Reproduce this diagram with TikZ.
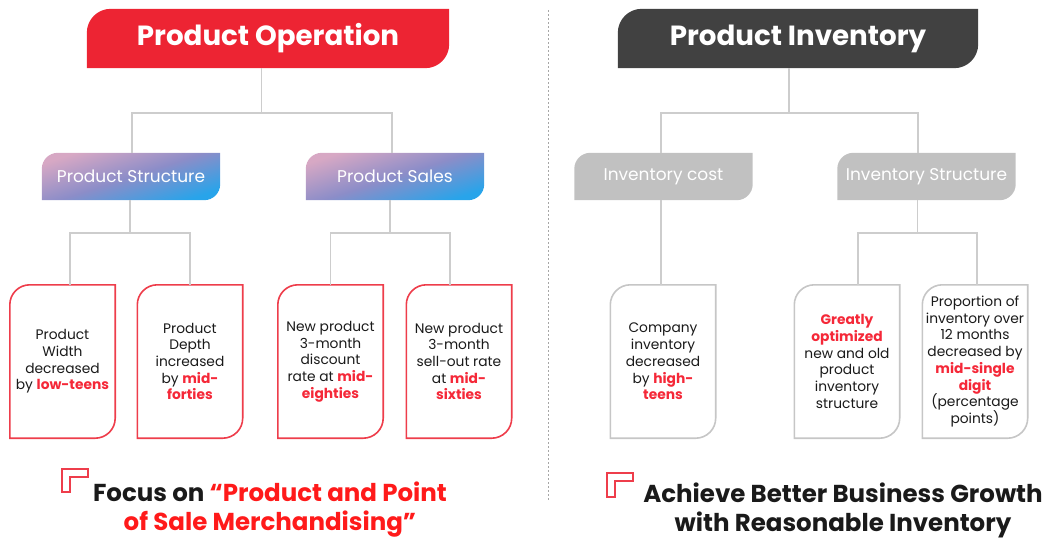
\documentclass[tikz,border=0pt]{standalone}
\usepackage{fontspec}
\setmainfont{Poppins}
\usetikzlibrary{backgrounds}
\definecolor{opred}{HTML}{ED2433}
\definecolor{opdark}{HTML}{414141}
\definecolor{subgray}{HTML}{C1C1C1}
\definecolor{linegray}{HTML}{CDCDCD}
\definecolor{leafred}{HTML}{EE3D4B}
\definecolor{leafgray}{HTML}{C6C6C6}
\definecolor{hlred}{HTML}{F52838}
\definecolor{footred}{HTML}{FF1A1A}
\definecolor{ink}{HTML}{1A1A1A}
\definecolor{gtop}{HTML}{D7A8C4}
\definecolor{gmid}{HTML}{8C8DC8}
\definecolor{gbot}{HTML}{28A4EA}
% tab outline: rounded top-left and bottom-right corners, square elsewhere
\newcommand\tabpath[2]{(#1.south west) -- ([yshift=-#2]#1.north west) arc[start angle=180,end angle=90,radius=#2] -- (#1.north east) -- ([yshift=#2]#1.south east) arc[start angle=0,end angle=-90,radius=#2] -- cycle}
\newcommand\hl[1]{\textcolor{hlred}{\bfseries #1}}
\begin{document}
\begin{tikzpicture}[x=1pt,y=1pt,
  headtxt/.style={font=\fontsize{27.7}{32}\selectfont\bfseries, text=white, inner sep=0pt, minimum height=59pt},
  subtxt/.style={font=\fontsize{17}{20}\selectfont, text=white, inner sep=0pt, minimum width=178pt, minimum height=47pt},
  leaf/.style={font=\fontsize{13.8}{16.7}\selectfont, text=ink, align=center, inner sep=0pt, minimum width=105pt, minimum height=153pt},
  conn/.style={draw=linegray, line width=1.2pt},
  redframe/.style={draw=leafred, fill=white, line width=1.6pt},
  grayframe/.style={draw=leafgray, fill=white, line width=1.6pt},
  gradfill/.style={top color=gtop, bottom color=gbot, middle color=gmid, shading angle=18},
  bracket/.style={draw=leafred, line width=1.6pt},
  foot/.style={font=\fontsize{24.5}{29}\selectfont\bfseries, text=ink, align=center, inner sep=0pt},
  divider/.style={draw=gray!70, line width=0.8pt, dash pattern=on 2pt off 2pt}
]
\useasboundingbox (0,0) rectangle (1045,-538);

% headers
\node[headtxt, minimum width=362pt] (tL) at (268,-38.5) {Product Operation};
\node[headtxt, minimum width=360pt] (tR) at (798,-38.5) {Product Inventory};

% second level
\node[subtxt] (sS) at (131,-176.5) {Product Structure};
\node[subtxt] (sP) at (395,-176.5) {Product Sales};
\node[subtxt] (sC) at (663.5,-176.5) {Inventory cost};
\node[subtxt] (sI) at (926.5,-176.5) {Inventory Structure};

% leaves
\node[leaf] (L1) at (62.5,-361.5) {Product\\Width\\decreased\\by \hl{low-teens}};
\node[leaf] (L2) at (190,-361.5) {Product\\Depth\\increased\\by \hl{mid-}\\\hl{forties}};
\node[leaf] (L3) at (330.5,-361.5) {New product\\3-month\\discount\\rate at \hl{mid-}\\\hl{eighties}};
\node[leaf] (L4) at (459,-361.5) {New product\\3-month\\sell-out rate\\at \hl{mid-}\\\hl{sixties}};
\node[leaf] (R1) at (663,-361.5) {Company\\inventory\\decreased\\by \hl{high-}\\\hl{teens}};
\node[leaf] (R2) at (847,-361.5) {\hl{Greatly}\\\hl{optimized}\\new and old\\product\\inventory\\structure};
\node[leaf] (R3) at (975,-361.5) {Proportion of\\inventory over\\12 months\\decreased by\\\hl{mid-single}\\\hl{digit}\\(percentage\\points)};

% shapes behind the texts
\begin{scope}[on background layer]
  \fill[opred] \tabpath{tL}{24pt};
  \fill[opdark] \tabpath{tR}{24pt};
  \shade[gradfill] \tabpath{sS}{16pt};
  \shade[gradfill] \tabpath{sP}{16pt};
  \fill[subgray] \tabpath{sC}{16pt};
  \fill[subgray] \tabpath{sI}{16pt};
  \path[redframe] \tabpath{L1}{20pt};
  \path[redframe] \tabpath{L2}{20pt};
  \path[redframe] \tabpath{L3}{20pt};
  \path[redframe] \tabpath{L4}{20pt};
  \path[grayframe] \tabpath{R1}{20pt};
  \path[grayframe] \tabpath{R2}{20pt};
  \path[grayframe] \tabpath{R3}{20pt};
\end{scope}

% tree connectors
\coordinate (jL) at (261.5,-113);
\coordinate (jS) at (130,-233);
\coordinate (jP) at (390,-233);
\coordinate (jR) at (789,-113);
\coordinate (jI) at (917.5,-233);
\draw[conn] (tL.south -| jL) -- (jL);
\draw[conn] ([xshift=1pt]sS.north) |- (jL) -| ([xshift=-3pt]sP.north);
\draw[conn] (sS.south -| jS) -- (jS);
\draw[conn] ([xshift=7.5pt]L1.north) |- (jS) -| (L2.north);
\draw[conn] (sP.south -| jP) -- (jP);
\draw[conn] (L3.north) |- (jP) -| ([xshift=-9pt]L4.north);
\draw[conn] (tR.south -| jR) -- (jR);
\draw[conn] ([xshift=-2.5pt]sC.north) |- (jR) -| ([xshift=-8.5pt]sI.north);
\draw[conn] ([xshift=-2.5pt]sC.south) -- ([xshift=-2pt]R1.north);
\draw[conn] (sI.south -| jI) -- (jI);
\draw[conn] ([xshift=11pt]R2.north) |- (jI) -| ([xshift=2pt]R3.north);

% divider between the two halves
\coordinate (dTop) at (548,-10);
\coordinate (dBot) at (548,-500);
\draw[divider] (dTop) -- (dBot);

% corner brackets
\draw[bracket] (62,-492) -- (62,-469) -- (88,-469) -- (88,-477) -- (70,-477) -- (70,-492) -- cycle;
\draw[bracket] (607,-497) -- (607,-473) -- (633,-473) -- (633,-481) -- (615,-481) -- (615,-497) -- cycle;

% conclusions
\node[foot] (fL) at (270,-510) {Focus on \textcolor{footred}{“Product and Point}\\\textcolor{footred}{of Sale Merchandising”}};
\node[foot] (fR) at (843,-510) {Achieve Better Business Growth\\with Reasonable Inventory};
\end{tikzpicture}
\end{document}
